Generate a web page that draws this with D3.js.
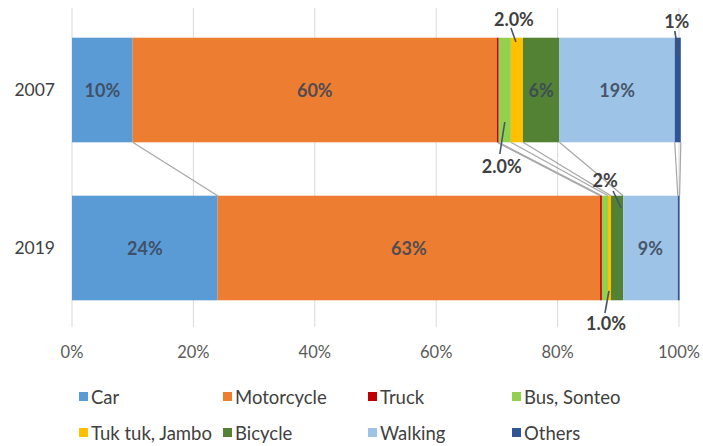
<!DOCTYPE html>
<html>
<head>
<meta charset="utf-8">
<script src="https://cdn.jsdelivr.net/npm/d3@7"></script>
<style>
  html, body { margin: 0; padding: 0; background: #fff; }
  svg { display: block; font-family: Lato, "Open Sans", "Liberation Sans", sans-serif; }
</style>
</head>
<body>
<svg id="chart" width="703" height="446"></svg>
<script>
// Modal split of trips, share in percent
const years = ["2007", "2019"];
const modes = ["Car", "Motorcycle", "Truck", "Bus, Sonteo", "Tuk tuk, Jambo", "Bicycle", "Walking", "Others"];
const share2007 = [10, 60, 0.3, 2.0, 2.0, 6, 19, 1];
const share2019 = [24, 63, 0.3, 1.0, 0.5, 2, 9, 0.3];
const xTicks = [0, 20, 40, 60, 80, 100];
const modeColors = ["#5b9bd5", "#ed7d31", "#c00000", "#92d050", "#ffc000", "#548235", "#9dc3e6", "#2f5597"];

// number format of each data label (null = no label)
const labelFormat2007 = [".0f", ".0f", null, ".1f", ".1f", ".0f", ".0f", ".0f"];
const labelFormat2019 = [".0f", ".0f", null, ".1f", null, ".0f", ".0f", null];

const svg = d3.select("#chart");
const x = d3.scaleLinear().domain([0, 100]).range([72, 679]);
const y = d3.scaleBand().domain(years).range([11, 327]).paddingInner(0.338).paddingOuter(0.169);

const shares = { "2007": share2007, "2019": share2019 };
const formats = { "2007": labelFormat2007, "2019": labelFormat2019 };

// stacked segments per year
const segments = [];
years.forEach(yr => {
  let acc = 0;
  shares[yr].forEach((v, i) => {
    segments.push({ year: yr, i, mode: modes[i], value: v, x0: acc, x1: acc + v, fmt: formats[yr][i] });
    acc += v;
  });
});

// vertical gridlines
svg.append("g")
  .selectAll("line")
  .data(xTicks)
  .join("line")
  .attr("x1", d => x(d)).attr("x2", d => x(d))
  .attr("y1", 8).attr("y2", 327)
  .attr("stroke", "#d9d9d9").attr("stroke-width", 1);

// x tick labels
svg.append("g")
  .selectAll("text")
  .data(xTicks)
  .join("text")
  .attr("x", d => x(d)).attr("y", 358)
  .attr("text-anchor", "middle")
  .attr("font-size", 16.5).attr("fill", "#595959")
  .text(d => d + "%");

// category labels
svg.append("g")
  .selectAll("text")
  .data(years)
  .join("text")
  .attr("x", 55).attr("y", d => y(d) + y.bandwidth() / 2 + 6)
  .attr("text-anchor", "end")
  .attr("font-size", 17.5).attr("fill", "#404040")
  .text(d => d);

// series lines joining the segment ends of consecutive bars
const seriesLines = [];
for (let k = 0; k < years.length - 1; k++) {
  const a = years[k], b = years[k + 1];
  let ea = 0, eb = 0;
  modes.forEach((m, i) => {
    ea += shares[a][i]; eb += shares[b][i];
    seriesLines.push({ xa: ea, xb: eb, ya: y(a) + y.bandwidth(), yb: y(b) });
  });
}
svg.append("g")
  .selectAll("line")
  .data(seriesLines)
  .join("line")
  .attr("x1", d => x(d.xa)).attr("y1", d => d.ya)
  .attr("x2", d => x(d.xb)).attr("y2", d => d.yb)
  .attr("stroke", "#a6a6a6").attr("stroke-width", 1.2);

// bars
svg.append("g")
  .selectAll("rect")
  .data(segments)
  .join("rect")
  .attr("x", d => x(d.x0))
  .attr("width", d => x(d.x1) - x(d.x0))
  .attr("y", d => y(d.year))
  .attr("height", y.bandwidth())
  .attr("fill", d => modeColors[d.i]);

// label placement: inside the segment, or as a callout with a leader line
// callout: [text dx, text dy, leader start dx, dy, leader end dx, dy] relative to segment centre
const callouts = {
  "2007|Bus, Sonteo":    [-3, 76, -5, 64, 0, 32],
  "2007|Tuk tuk, Jambo": [-3, -71, -6, -62, -1, -48],
  "2007|Others":         [-1, -69, -3, -59, 1, -34],
  "2019|Bus, Sonteo":    [1, 75, 0, 65, 4, 43],
  "2019|Bicycle":        [-12, -68, -4, -57, 4, -40]
};

const labelled = segments.filter(d => d.fmt);
const lg = svg.append("g");
labelled.forEach(d => {
  const cx = x((d.x0 + d.x1) / 2);
  const cy = y(d.year) + y.bandwidth() / 2;
  const txt = d3.format(d.fmt)(d.value) + "%";
  const c = callouts[d.year + "|" + d.mode];
  if (c) {
    lg.append("line")
      .attr("x1", cx + c[2]).attr("y1", cy + c[3])
      .attr("x2", cx + c[4]).attr("y2", cy + c[5])
      .attr("stroke", "#44546a").attr("stroke-width", 1.6);
    lg.append("text")
      .attr("x", cx + c[0]).attr("y", cy + c[1] + 6.5)
      .attr("text-anchor", "middle")
      .attr("font-size", 18).attr("font-weight", 700).attr("fill", "#404040")
      .text(txt);
  } else {
    lg.append("text")
      .attr("x", cx).attr("y", cy + 6.5)
      .attr("text-anchor", "middle")
      .attr("font-size", 18).attr("font-weight", 700)
      .attr("fill", "#3b4658")
      .attr("fill-opacity", 0.9)
      .text(txt);
  }
});

// legend, two rows of four
const legendCols = [79, 223, 368, 512];
const legendRows = [397, 433];
const legend = svg.append("g")
  .selectAll("g")
  .data(modes)
  .join("g")
  .attr("transform", (d, i) => `translate(${legendCols[i % 4]},${legendRows[Math.floor(i / 4)]})`);
legend.append("rect")
  .attr("x", 0).attr("y", -5).attr("width", 9).attr("height", 9)
  .attr("fill", (d, i) => modeColors[i]);
legend.append("text")
  .attr("x", 12).attr("y", 6.5)
  .attr("font-size", 18.5).attr("fill", "#404040")
  .text(d => d);
</script>
</body>
</html>
